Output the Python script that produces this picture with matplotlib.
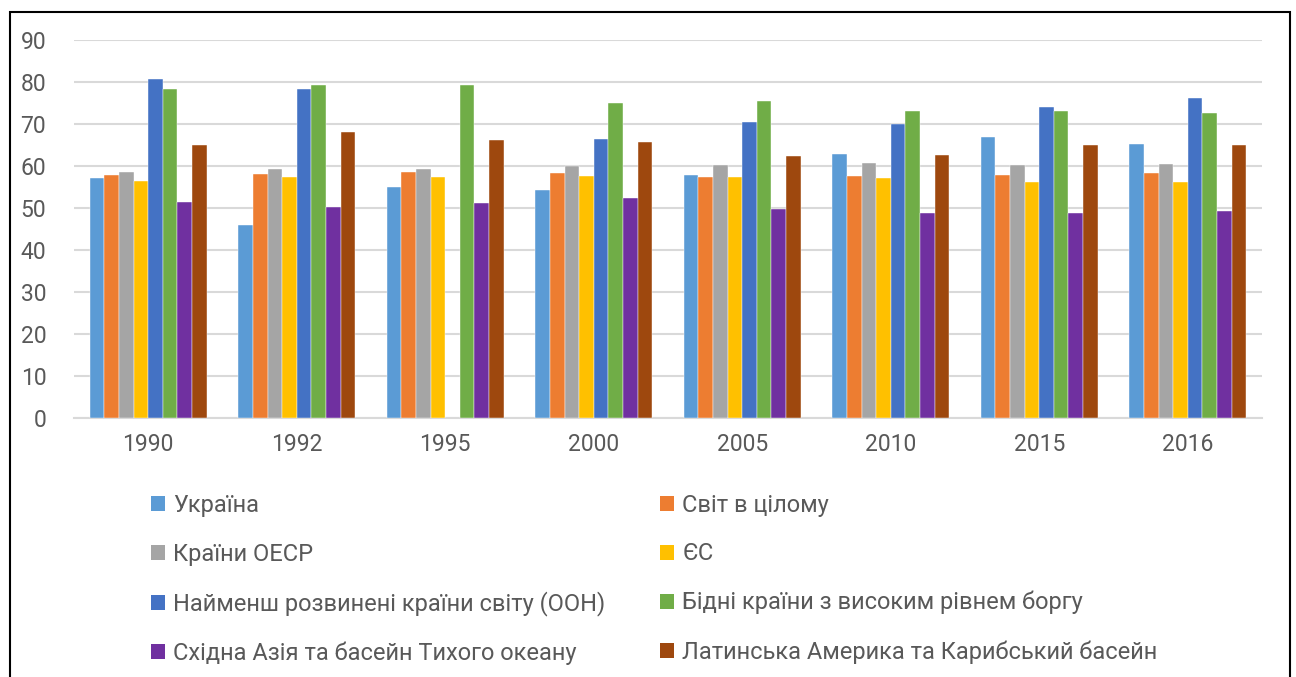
import numpy as np
import matplotlib
matplotlib.use("Agg")
import matplotlib.pyplot as plt
from matplotlib.patches import Rectangle, Patch

plt.rcParams["font.family"] = ["Roboto", "DejaVu Sans"]

years = ["1990", "1992", "1995", "2000", "2005", "2010", "2015", "2016"]

ukraine = [57.1, 45.9, 55.0, 54.3, 57.8, 62.9, 66.9, 65.2]
world = [57.9, 58.1, 58.5, 58.3, 57.5, 57.6, 57.9, 58.3]
oecd = [58.5, 59.4, 59.4, 60.0, 60.3, 60.8, 60.2, 60.4]
eu = [56.4, 57.5, 57.4, 57.7, 57.3, 57.2, 56.3, 56.3]
least_developed = [80.6, 78.4, np.nan, 66.5, 70.4, 70.0, 74.1, 76.2]
hipc = [78.4, 79.4, 79.4, 75.1, 75.5, 73.1, 73.0, 72.7]
east_asia = [51.4, 50.2, 51.3, 52.3, 49.7, 48.8, 48.9, 49.4]
latin_america = [65.1, 68.1, 66.1, 65.6, 62.5, 62.6, 64.9, 65.0]

series_names = [
    "Україна",
    "Світ в цілому",
    "Країни ОЕСР",
    "ЄС",
    "Найменш розвинені країни світу (ООН)",
    "Бідні країни з високим рівнем боргу",
    "Східна Азія та басейн Тихого океану",
    "Латинська Америка та Карибський басейн",
]
series_values = [ukraine, world, oecd, eu, least_developed, hipc,
                 east_asia, latin_america]
colors = ["#5B9BD5", "#ED7D31", "#A5A5A5", "#FFC000",
          "#4472C4", "#70AD47", "#7030A0", "#9E480E"]

text_color = "#595959"
grid_color = "#D9D9D9"

fig = plt.figure(figsize=(12.96, 6.77), dpi=100)
ax = fig.add_axes([74 / 1296, 1 - 418 / 677, (1262 - 74) / 1296, (418 - 40) / 677])

x = np.arange(len(years))
n = len(series_values)
group_width = 0.786
bar_width = group_width / n

for i, (name, values, color) in enumerate(zip(series_names, series_values, colors)):
    offset = -group_width / 2 + bar_width * (i + 0.5)
    ax.bar(x + offset, values, width=bar_width, color=color, label=name,
           edgecolor="white", linewidth=0.3, zorder=3)

ax.set_xlim(-0.5, len(years) - 0.5)
ax.set_ylim(0, 90)
ax.set_yticks(range(0, 91, 10))
ax.set_xticks(x)
ax.set_xticklabels(years)
ax.yaxis.grid(True, color=grid_color, linewidth=1.5, zorder=0)
ax.tick_params(axis="both", length=0, labelsize=16.5, colors=text_color)
ax.tick_params(axis="y", pad=20)
ax.tick_params(axis="x", pad=11)
for side in ["top", "right", "left"]:
    ax.spines[side].set_visible(False)
ax.spines["bottom"].set_color(grid_color)
ax.spines["bottom"].set_linewidth(1.5)

# legend: two columns, filled row by row
handles = [Patch(facecolor=c) for c in colors]
legend_kw = dict(frameon=False, fontsize=17, labelcolor=text_color,
                 handlelength=0.6, handleheight=0.6, handletextpad=0.35,
                 labelspacing=1.08, borderpad=0, borderaxespad=0)
fig.legend([handles[i] for i in (0, 2, 4, 6)],
           [series_names[i] for i in (0, 2, 4, 6)],
           loc="upper left", bbox_to_anchor=(151 / 1296, 1 - 494 / 677),
           **legend_kw)
fig.legend([handles[i] for i in (1, 3, 5, 7)],
           [series_names[i] for i in (1, 3, 5, 7)],
           loc="upper left", bbox_to_anchor=(660 / 1296, 1 - 494 / 677),
           **legend_kw)

fig.patches.append(Rectangle((10 / 1296, -0.02), 1280 / 1296, 1 - 12 / 677 + 0.02,
                             transform=fig.transFigure, fill=False,
                             edgecolor="black", linewidth=1.5))

fig.savefig("out.png", dpi=100)
